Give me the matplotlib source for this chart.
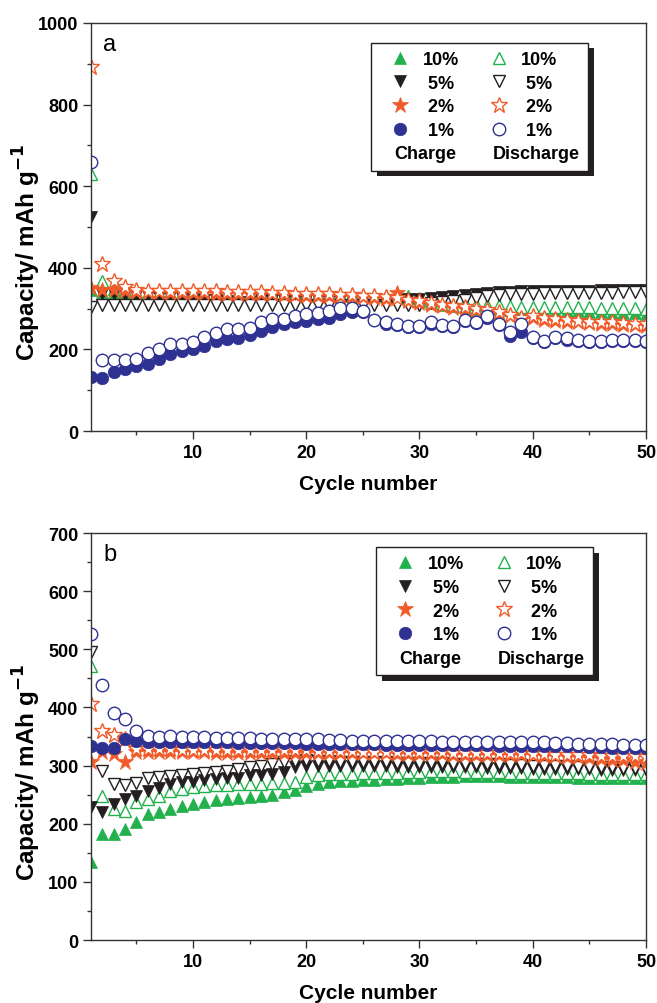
import matplotlib
matplotlib.use('Agg')
import matplotlib.pyplot as plt
from matplotlib.lines import Line2D
from matplotlib.patches import Rectangle
from matplotlib.ticker import MultipleLocator
import numpy as np

plt.rcParams['font.family'] = ['Liberation Sans', 'DejaVu Sans']
plt.rcParams['font.weight'] = 'bold'

cycles = np.arange(1, 51)

# ---- panel a ----
a_c10 = [345, 340, 338, 337, 336, 336, 335, 335, 335, 335, 335, 335, 334, 334, 334, 334, 333, 333, 333, 333,
         332, 332, 332, 331, 331, 330, 330, 329, 325, 318, 314, 310, 306, 303, 300, 299, 298, 297, 296, 295,
         294, 294, 293, 293, 292, 291, 290, 289, 289, 288]
a_d10 = [630, 368, 348, 342, 340, 339, 339, 338, 338, 338, 338, 337, 337, 337, 336, 336, 336, 335, 335, 335,
         334, 334, 333, 333, 332, 331, 331, 330, 330, 325, 322, 320, 318, 315, 312, 310, 308, 306, 305, 305,
         304, 304, 303, 303, 303, 302, 302, 301, 301, 300]
a_c5 = [525, 336, 335, 333, 332, 330, 329, 328, 326, 324, 322, 320, 318, 317, 317, 320, 321, 322, 322, 322,
        322, 322, 322, 322, 322, 322, 322, 322, 323, 324, 326, 328, 330, 333, 336, 338, 340, 341, 342, 342,
        343, 343, 344, 344, 344, 345, 345, 345, 345, 345]
a_d5 = [305, 308, 310, 310, 310, 310, 310, 310, 310, 310, 310, 310, 310, 310, 309, 309, 309, 309, 309, 309,
        309, 309, 309, 309, 309, 310, 310, 310, 310, 310, 313, 316, 318, 322, 326, 330, 334, 336, 337, 337,
        338, 338, 338, 339, 339, 339, 339, 340, 340, 340]
a_c2 = [350, 345, 345, 342, 340, 340, 340, 339, 339, 338, 338, 337, 337, 336, 336, 335, 335, 334, 333, 332,
        331, 331, 330, 329, 328, 325, 323, 338, 318, 314, 310, 306, 302, 299, 296, 293, 288, 281, 272, 277,
        272, 270, 268, 266, 264, 263, 262, 261, 259, 258]
a_d2 = [892, 409, 368, 353, 345, 344, 344, 344, 343, 343, 342, 342, 341, 341, 340, 340, 339, 338, 337, 336,
        335, 335, 334, 333, 332, 330, 328, 326, 322, 318, 314, 310, 306, 303, 300, 297, 292, 285, 276, 282,
        276, 274, 272, 270, 268, 267, 266, 265, 263, 262]
a_c1 = [132, 131, 144, 152, 160, 164, 176, 189, 197, 201, 209, 221, 225, 229, 235, 246, 254, 262, 266, 270,
        274, 278, 287, 291, 291, 272, 263, 259, 255, 255, 262, 257, 255, 270, 265, 278, 259, 233, 242, 227,
        218, 227, 224, 221, 218, 218, 221, 221, 221, 218]
a_d1 = [659, 175, 173, 175, 176, 191, 201, 213, 213, 217, 230, 240, 250, 250, 252, 266, 274, 275, 281, 287,
        289, 295, 301, 301, 295, 273, 266, 262, 258, 258, 266, 261, 258, 273, 268, 281, 262, 242, 262, 230,
        221, 230, 227, 224, 221, 221, 224, 224, 224, 221]

# ---- panel b ----
b_c10 = [134, 182, 183, 191, 203, 217, 221, 225, 231, 234, 237, 240, 242, 244, 246, 248, 250, 254, 258, 265,
         268, 271, 273, 274, 275, 276, 277, 277, 278, 279, 280, 281, 281, 282, 282, 282, 282, 281, 281, 281,
         280, 280, 280, 279, 279, 279, 278, 278, 278, 278]
b_d10 = [472, 248, 225, 222, 237, 243, 248, 257, 260, 263, 265, 266, 267, 268, 268, 269, 270, 270, 271, 280,
         283, 286, 286, 286, 287, 288, 288, 288, 289, 289, 290, 290, 290, 289, 289, 289, 289, 288, 288, 288,
         288, 287, 287, 287, 286, 286, 286, 285, 285, 285]
b_c5 = [229, 220, 234, 243, 248, 257, 262, 268, 271, 272, 275, 277, 278, 279, 283, 284, 286, 289, 297, 300,
        300, 300, 300, 299, 299, 299, 299, 298, 298, 298, 298, 297, 297, 297, 297, 296, 296, 296, 296, 295,
        295, 295, 294, 294, 294, 293, 293, 292, 292, 292]
b_d5 = [495, 290, 268, 266, 270, 278, 280, 282, 283, 285, 287, 289, 291, 294, 297, 300, 303, 306, 308, 310,
        308, 308, 307, 307, 306, 306, 306, 305, 305, 305, 304, 304, 303, 303, 302, 302, 302, 301, 301, 300,
        300, 299, 299, 298, 298, 297, 297, 296, 296, 295]
b_c2 = [306, 323, 320, 306, 323, 324, 323, 323, 323, 323, 323, 322, 322, 322, 322, 322, 322, 322, 322, 322,
        322, 322, 321, 321, 321, 321, 321, 320, 320, 320, 320, 320, 319, 319, 319, 319, 318, 318, 318, 318,
        317, 316, 315, 314, 313, 312, 310, 309, 307, 305]
b_d2 = [406, 360, 352, 345, 329, 328, 328, 328, 327, 327, 327, 327, 327, 326, 326, 326, 326, 326, 326, 326,
        325, 325, 325, 325, 324, 324, 324, 324, 323, 323, 323, 323, 322, 322, 322, 322, 321, 321, 321, 320,
        320, 319, 319, 318, 318, 317, 317, 316, 316, 315]
b_c1 = [334, 330, 331, 346, 342, 341, 341, 341, 340, 340, 340, 340, 340, 339, 339, 339, 339, 339, 339, 338,
        338, 338, 338, 337, 337, 337, 336, 336, 336, 336, 336, 335, 335, 335, 335, 335, 334, 334, 334, 334,
        334, 333, 333, 333, 332, 332, 331, 331, 330, 330]
b_d1 = [526, 439, 390, 380, 359, 351, 350, 351, 350, 349, 349, 348, 348, 347, 347, 346, 346, 346, 346, 345,
        345, 344, 344, 343, 343, 343, 342, 342, 342, 342, 342, 341, 341, 341, 341, 341, 340, 340, 340, 340,
        340, 339, 339, 338, 338, 337, 337, 336, 335, 335]

labels = ['10%', ' 5%', ' 2%', ' 1%']
markers = ['^', 'v', '*', 'o']
msizes = [9, 9, 12, 9]
colors = ['#22b14c', '#231f20', '#f15a29', '#2e3192']

LEG_FS = 13
HL, HTP = 2.3, 0.1


def draw_panel(ax, charge, discharge, letter, ymax, ymajor, yminor, anchor, ylab_y):
    hc, hd = [], []
    for i in range(4):
        lc, = ax.plot(cycles, charge[i], linestyle='none', marker=markers[i], ms=msizes[i],
                      color=colors[i], markeredgecolor=colors[i], markeredgewidth=0.5)
        ld, = ax.plot(cycles, discharge[i], linestyle='none', marker=markers[i], ms=msizes[i],
                      markerfacecolor='white', markeredgecolor=colors[i], markeredgewidth=1.0)
        hc.append(lc)
        hd.append(ld)
    ax.set_xlim(1, 50)
    ax.set_ylim(0, ymax)
    ax.xaxis.set_major_locator(MultipleLocator(10))
    ax.xaxis.set_minor_locator(MultipleLocator(5))
    ax.yaxis.set_major_locator(MultipleLocator(ymajor))
    ax.yaxis.set_minor_locator(MultipleLocator(yminor))
    ax.tick_params(which='both', direction='out', top=False, right=False, labelsize=13,
                   width=1, pad=3, color='#333333')
    ax.tick_params(which='major', length=6)
    ax.tick_params(which='minor', length=3)
    for s in ax.spines.values():
        s.set_linewidth(1)
        s.set_color('#333333')
    ax.set_xlabel('Cycle number', fontsize=15, fontweight='bold', labelpad=10)
    ax.set_ylabel('Capacity/ mAh g$^{\\mathbf{-1}}$', fontsize=17.5, fontweight='bold')
    ax.yaxis.set_label_coords(-0.087, ylab_y)
    ax.text(0.022, 0.975, letter, transform=ax.transAxes, fontsize=17, fontweight='normal',
            va='top', ha='left')
    blank = Line2D([], [], linestyle='none', marker='none')
    leg = ax.legend(hc + [blank] + hd + [blank],
                    labels + ['10%'] + labels + ['Discharge'],
                    ncol=2, loc='upper right', bbox_to_anchor=anchor,
                    fancybox=False, framealpha=1, edgecolor='#231f20',
                    prop={'weight': 'bold', 'size': LEG_FS}, handlelength=HL,
                    handletextpad=HTP, columnspacing=1.05, labelspacing=0.37,
                    borderpad=0.45, borderaxespad=0)
    leg.get_frame().set_linewidth(1)
    return leg


fig = plt.figure(figsize=(6.57, 10.04), dpi=100)
ax1 = fig.add_axes([0.1385, 0.5697, 0.8448, 0.4064])
ax2 = fig.add_axes([0.1385, 0.0627, 0.8448, 0.4054])

leg1 = draw_panel(ax1, [a_c10, a_c5, a_c2, a_c1], [a_d10, a_d5, a_d2, a_d1], 'a',
                  1000, 200, 100, (0.8955, 0.951), 0.44)
leg2 = draw_panel(ax2, [b_c10, b_c5, b_c2, b_c1], [b_d10, b_d5, b_d2, b_d1], 'b',
                  700, 100, 50, (0.9045, 0.9656), 0.415)

# the last legend row holds "Charge" / "Discharge" under the markers:
# keep invisible placeholders in the legend so the box gets the right size
px = fig.dpi / 72.0
lead = (HTP + HL / 2) * LEG_FS * px + 6  # from text start back to just left of the marker
renderer = fig.canvas.get_renderer()
probe = fig.text(0, 0, 'Discharge', fontsize=LEG_FS, fontweight='bold')
wd = probe.get_window_extent(renderer).width
probe.remove()
for leg in (leg1, leg2):
    texts = leg.get_texts()
    texts[4].set_alpha(0)
    texts[9].set_alpha(0)
    texts[9].set_fontsize(LEG_FS * (wd - lead) / wd)

fig.canvas.draw()
W, H = fig.canvas.get_width_height()
for ax, leg in [(ax1, leg1), (ax2, leg2)]:
    texts = leg.get_texts()
    ref = texts[4].get_window_extent()
    for t, word in [(texts[4], 'Charge'), (texts[9], 'Discharge')]:
        bb = t.get_window_extent()
        fig.text((bb.x0 - lead) / W, ref.y0 / H, word, fontsize=LEG_FS,
                 fontweight='bold', ha='left', va='bottom', zorder=10)
    lb = leg.get_window_extent()
    sh = Rectangle(((lb.x0 + 6) / W, (lb.y0 - 6) / H), lb.width / W, lb.height / H,
                   transform=fig.transFigure, facecolor='#231f20', edgecolor='none',
                   zorder=4.9, clip_on=False)
    ax.add_artist(sh)

fig.savefig('out.png', dpi=100)
